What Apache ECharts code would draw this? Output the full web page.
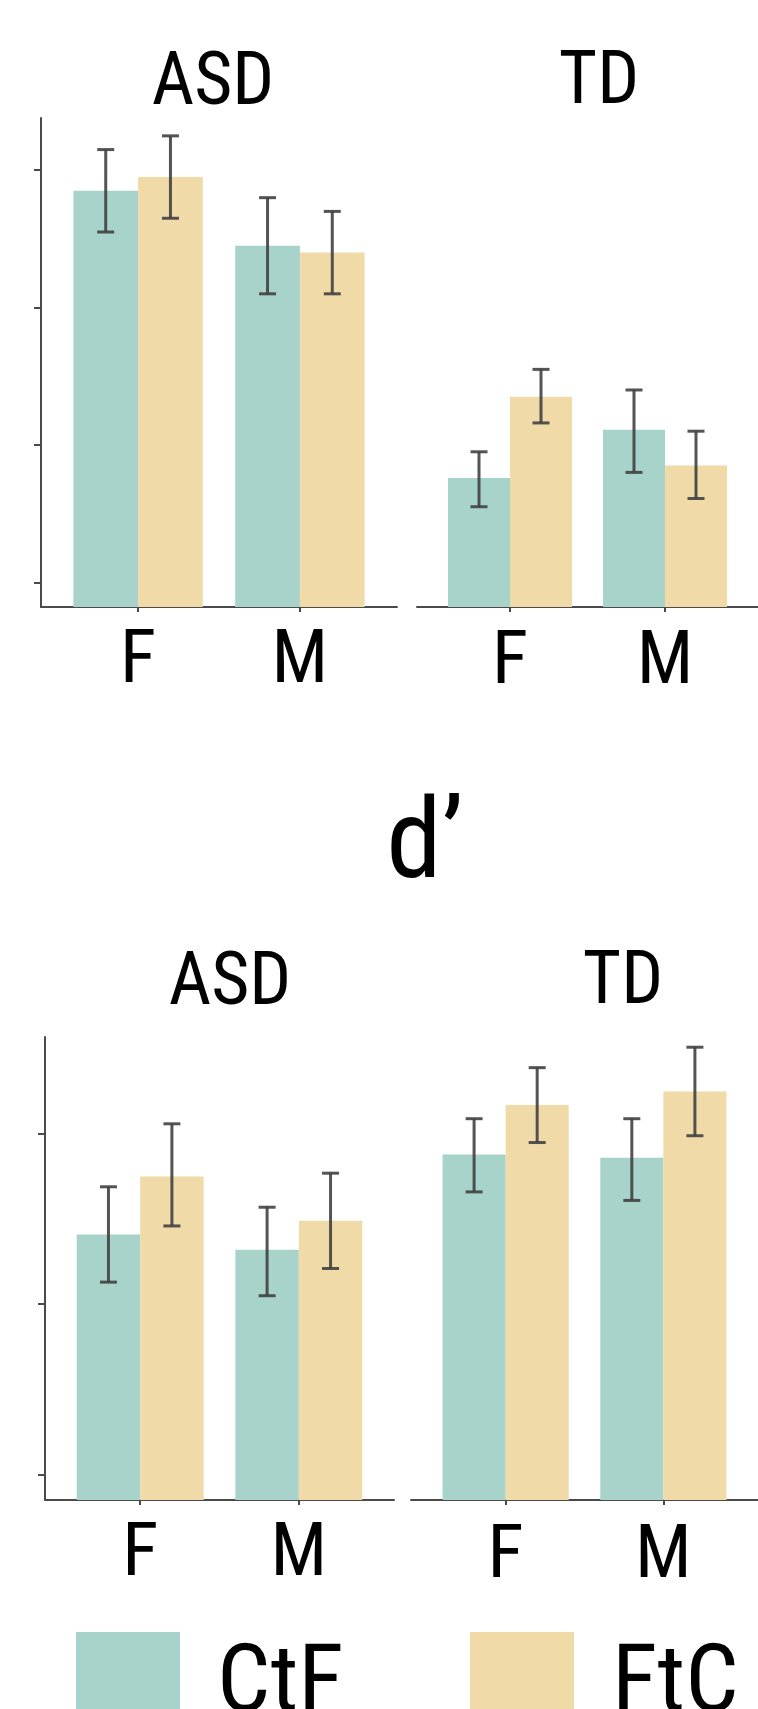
<!DOCTYPE html>
<html>
<head>
<meta charset="utf-8">
<script src="https://cdn.jsdelivr.net/npm/echarts@6/dist/echarts.min.js"></script>
<style>
html, body { margin: 0; padding: 0; background: #ffffff; }
#chart { width: 758px; height: 1709px; }
</style>
</head>
<body>
<div id="chart"></div>
<script>
// ---- data ----
const categories = ['F', 'M'];
const groups = ['ASD', 'TD'];
const seriesNames = ['CtF', 'FtC'];
const bottomTitle = "d\u2019";

// top panel (axis units; ticks unlabeled)
const topTicks = [0.18, 1.18, 2.18, 3.18];
const topAsdCtF = [3.03, 2.63];
const topAsdCtFLow = [2.73, 2.28];
const topAsdCtFHigh = [3.33, 2.98];
const topAsdFtC = [3.13, 2.58];
const topAsdFtCLow = [2.83, 2.28];
const topAsdFtCHigh = [3.43, 2.88];
const topTdCtF = [0.94, 1.29];
const topTdCtFLow = [0.73, 0.98];
const topTdCtFHigh = [1.13, 1.58];
const topTdFtC = [1.53, 1.03];
const topTdFtCLow = [1.34, 0.79];
const topTdFtCHigh = [1.73, 1.28];

// bottom panel: d'
const bottomTicks = [0.15, 1.15, 2.15];
const botAsdCtF = [1.56, 1.47];
const botAsdCtFLow = [1.28, 1.20];
const botAsdCtFHigh = [1.84, 1.72];
const botAsdFtC = [1.90, 1.64];
const botAsdFtCLow = [1.61, 1.36];
const botAsdFtCHigh = [2.21, 1.92];
const botTdCtF = [2.03, 2.01];
const botTdCtFLow = [1.81, 1.76];
const botTdCtFHigh = [2.24, 2.24];
const botTdFtC = [2.32, 2.40];
const botTdFtCLow = [2.10, 2.14];
const botTdFtCHigh = [2.54, 2.66];

// ---- font choice: pick an installed narrow sans face ----
const mctx = document.createElement('canvas').getContext('2d');
function fontStr(f, size) { return f.stretch + ' normal ' + size + 'px ' + f.family; }
function isInstalled(family) {
  const s = 'mmmmmmmmmwwlli ASDW 0123';
  mctx.font = '72px ' + family + ', monospace'; const a = mctx.measureText(s).width;
  mctx.font = '72px ' + family + ', serif'; const b = mctx.measureText(s).width;
  return Math.abs(a - b) < 0.01;
}
function meas(f, text, size, baseline) {
  mctx.font = fontStr(f, size);
  mctx.textBaseline = baseline || 'alphabetic';
  mctx.textAlign = 'left';
  return mctx.measureText(text);
}
function pickFont() {
  const cands = [
    { stretch: 'normal', family: "'Liberation Sans Narrow'" },
    { stretch: 'normal', family: "'Arial Narrow'" },
    { stretch: 'condensed', family: 'Roboto' },
    { stretch: 'semi-condensed', family: 'Roboto' },
    { stretch: 'normal', family: "'Roboto Condensed'" },
    { stretch: 'condensed', family: "'Noto Sans'" },
    { stretch: 'semi-condensed', family: "'Noto Sans'" },
    { stretch: 'condensed', family: "'Open Sans'" },
    { stretch: 'semi-condensed', family: "'Open Sans'" },
    { stretch: 'condensed', family: "'DejaVu Sans'" },
    { stretch: 'normal', family: "'DejaVu Sans Condensed'" },
    { stretch: 'normal', family: "'Liberation Sans'" }
  ];
  const target = 123 / 53; // ink width / cap height of "ASD" in the reference
  let best = null, bestScore = Infinity;
  cands.forEach((c, i) => {
    const fam = c.family.replace(/'/g, '');
    if (!isInstalled("'" + fam + "'")) return;
    const mm = meas(c, 'ASD', 100);
    const w = mm.actualBoundingBoxLeft + mm.actualBoundingBoxRight;
    const h = mm.actualBoundingBoxAscent;
    if (c.stretch !== 'normal') {
      const mn = meas({ stretch: 'normal', family: c.family }, 'ASD', 100);
      const wn = mn.actualBoundingBoxLeft + mn.actualBoundingBoxRight;
      if (w > wn * 0.97) return; // stretch not available
    }
    const score = Math.abs(w / h - target) + i * 0.01;
    if (score < bestScore) { bestScore = score; best = c; }
  });
  return best || { stretch: 'normal', family: "'Liberation Sans', sans-serif" };
}
const FONT = pickFont();
const fam = FONT.family + ', sans-serif';
function capAsc(text) { return meas(FONT, text, 100).actualBoundingBoxAscent / 100; }
function midAsc(text, size) { return meas(FONT, text, size, 'middle').actualBoundingBoxAscent; }
function lineH(size) { mctx.font = fontStr(FONT, size); return mctx.measureText('\u56fd').width; }
function inkW(text, size) { const m = meas(FONT, text, size); return m.actualBoundingBoxLeft + m.actualBoundingBoxRight; }
function inkL(text, size) { return meas(FONT, text, size).actualBoundingBoxLeft; }

// sizes from reference glyph heights
const titleSize = Math.round(53 / capAsc('ASD') * 10) / 10;
const labelSize = Math.round(54 / capAsc('F') * 10) / 10;
const dSize = Math.round(85 / capAsc('d') * 10) / 10;
const legendSize = Math.round(118 / (inkW('CtF', 100) / 100) * 10) / 10;

function titleTop(capTop, text, size) { return capTop - lineH(size) / 2 + midAsc(text, size); }
function titleLeft(center, text, size) { return center - inkW(text, size) / 2 + inkL(text, size); }
function labelMargin(capTop, axisY) { return capTop - axisY - lineH(labelSize) / 2 + midAsc('F', labelSize); }

// ---- styling ----
const COLORS = ['#A7D3CA', '#F0DAA8'];
const AXIS_COLOR = '#4a4a4a';
const ERR_COLOR = 'rgba(65,65,65,0.9)';

const panels = [
  { grid: { left: 41, top: 118, width: 356, height: 489 }, yMax: 3.56, ticks: topTicks, showY: true, capTop: 629,
    vals: [topAsdCtF, topAsdFtC], lows: [topAsdCtFLow, topAsdFtCLow], highs: [topAsdCtFHigh, topAsdFtCHigh] },
  { grid: { left: 417, top: 118, width: 356, height: 489 }, yMax: 3.56, ticks: topTicks, showY: false, capTop: 630,
    vals: [topTdCtF, topTdFtC], lows: [topTdCtFLow, topTdFtCLow], highs: [topTdCtFHigh, topTdFtCHigh] },
  { grid: { left: 45, top: 1037, width: 349, height: 463 }, yMax: 2.72, ticks: bottomTicks, showY: true, capTop: 1522,
    vals: [botAsdCtF, botAsdFtC], lows: [botAsdCtFLow, botAsdFtCLow], highs: [botAsdCtFHigh, botAsdFtCHigh] },
  { grid: { left: 411, top: 1037, width: 349, height: 463 }, yMax: 2.72, ticks: bottomTicks, showY: false, capTop: 1524,
    vals: [botTdCtF, botTdFtC], lows: [botTdCtFLow, botTdFtCLow], highs: [botTdCtFHigh, botTdFtCHigh] }
];

const catPos = categories.map((c, i) => i + 1);

const grid = [], xAxis = [], yAxis = [], series = [];
panels.forEach((p, gi) => {
  grid.push(Object.assign({ containLabel: false }, p.grid));
  xAxis.push({
    type: 'value', gridIndex: gi, min: 0.4, max: 2.6,
    splitLine: { show: false },
    axisLine: { show: true, onZero: false, lineStyle: { color: AXIS_COLOR, width: 2 } },
    axisTick: { show: true, customValues: catPos, length: 5, lineStyle: { color: AXIS_COLOR, width: 2 } },
    axisLabel: {
      customValues: catPos, margin: labelMargin(p.capTop, p.grid.top + p.grid.height),
      fontSize: labelSize, color: '#000', fontFamily: fam, fontStyle: FONT.stretch, fontWeight: 'normal',
      formatter: v => categories[Math.round(v) - 1] || ''
    }
  });
  yAxis.push({
    type: 'value', gridIndex: gi, min: 0, max: p.yMax,
    show: p.showY,
    splitLine: { show: false },
    axisLine: { show: true, lineStyle: { color: AXIS_COLOR, width: 2 } },
    axisTick: { show: true, customValues: p.ticks, length: 7, lineStyle: { color: AXIS_COLOR, width: 2 } },
    axisLabel: { show: false }
  });
  seriesNames.forEach((name, si) => {
    series.push({
      type: 'bar', name: name, xAxisIndex: gi, yAxisIndex: gi,
      barGap: '0%', barCategoryGap: '20%',
      itemStyle: { color: COLORS[si] },
      emphasis: { disabled: true },
      data: catPos.map((x, ci) => [x, p.vals[si][ci]])
    });
  });
  seriesNames.forEach((name, si) => {
    const off = si === 0 ? -0.2 : 0.2;
    series.push({
      type: 'custom', name: name + ' error', xAxisIndex: gi, yAxisIndex: gi, z: 10,
      encode: { x: 0, y: [1, 2] },
      data: catPos.map((x, ci) => [x, p.lows[si][ci], p.highs[si][ci]]),
      renderItem: function (params, api) {
        const xv = api.value(0) + off;
        const lo = api.coord([xv, api.value(1)]);
        const hi = api.coord([xv, api.value(2)]);
        const hw = 8.5;
        const st = { stroke: ERR_COLOR, lineWidth: 3 };
        return {
          type: 'group', children: [
            { type: 'line', shape: { x1: lo[0], y1: lo[1], x2: hi[0], y2: hi[1] }, style: st },
            { type: 'line', shape: { x1: lo[0] - hw, y1: lo[1], x2: lo[0] + hw, y2: lo[1] }, style: st },
            { type: 'line', shape: { x1: hi[0] - hw, y1: hi[1], x2: hi[0] + hw, y2: hi[1] }, style: st }
          ]
        };
      }
    });
  });
});

function ts(size) {
  return { fontSize: size, fontWeight: 'normal', fontStyle: FONT.stretch, color: '#000', fontFamily: fam };
}
function mkTitle(text, center, capTop, size) {
  return { text: text, left: titleLeft(center, text, size), top: titleTop(capTop, text, size),
    textAlign: 'left', textVerticalAlign: 'top', padding: 0, textStyle: ts(size) };
}
const title = [
  mkTitle(groups[0], 211.5, 50, titleSize),
  mkTitle(groups[1], 598, 50, titleSize),
  mkTitle(bottomTitle, 425.5, 793, dSize),
  mkTitle(groups[0], 228.5, 950, titleSize),
  mkTitle(groups[1], 622, 950, titleSize)
];

// legend
const legCenter = 1642 + midAsc('CtF', legendSize);
const legItemH = 2 * (legCenter - 1632);
function legend1(name, boxLeft, inkLeft) {
  const pad = inkLeft - (boxLeft + 104 + 5) + inkL(name, legendSize);
  return {
    data: [name], left: boxLeft, top: 1632, padding: 0, itemWidth: 104, itemHeight: legItemH, icon: 'rect',
    selectedMode: false,
    textStyle: Object.assign(ts(legendSize), { padding: [0, 0, 0, pad] })
  };
}
const legend = [legend1(seriesNames[0], 76, 222), legend1(seriesNames[1], 470, 619)];

const chart = echarts.init(document.getElementById('chart'));
chart.setOption({
  backgroundColor: '#ffffff',
  animation: false,
  title: title,
  legend: legend,
  grid: grid,
  xAxis: xAxis,
  yAxis: yAxis,
  series: series
});
</script>
</body>
</html>
